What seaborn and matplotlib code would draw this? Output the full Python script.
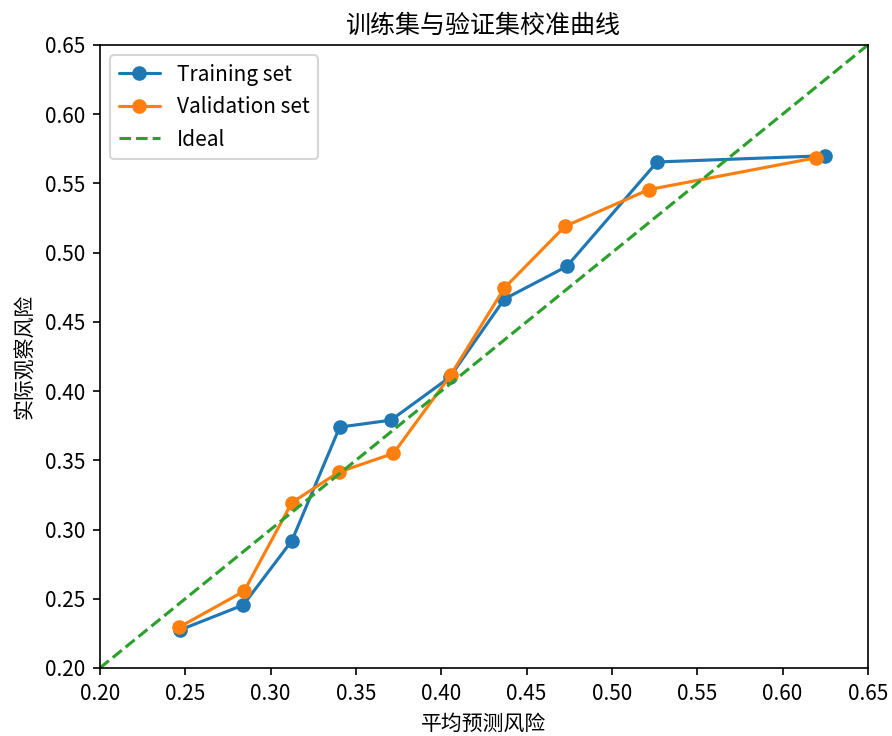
import numpy as np
import seaborn as sns
import matplotlib.pyplot as plt

# data
train_pred = [0.247, 0.284, 0.3125, 0.3405, 0.3705, 0.405, 0.437, 0.4735, 0.5265, 0.625]
train_obs = [0.2275, 0.2455, 0.292, 0.374, 0.379, 0.410, 0.4665, 0.490, 0.5655, 0.570]
val_pred = [0.2465, 0.2845, 0.3125, 0.340, 0.372, 0.4055, 0.437, 0.4725, 0.5215, 0.6195]
val_obs = [0.2295, 0.2555, 0.3195, 0.3415, 0.355, 0.4115, 0.4745, 0.519, 0.5455, 0.5685]
ideal = [0.2, 0.65]

sns.set_style("ticks")
plt.rcParams["font.family"] = ["Noto Sans CJK SC", "DejaVu Sans"]
plt.rcParams["axes.unicode_minus"] = False
for key in ["text.color", "axes.labelcolor", "xtick.color", "ytick.color", "axes.edgecolor"]:
    plt.rcParams[key] = "black"

# rendered at 150 dpi so default sizes scale like the reference
fig = plt.figure(figsize=(892 / 150, 736 / 150), dpi=150)
ax = fig.add_axes([0.112, 0.0924, 0.861, 0.8465])

pal = sns.color_palette("tab10")

sns.lineplot(x=train_pred, y=train_obs, marker="o", markersize=6, linewidth=1.5,
             color=pal[0], markeredgecolor=pal[0], markeredgewidth=1,
             sort=False, label="Training set", ax=ax)
sns.lineplot(x=val_pred, y=val_obs, marker="o", markersize=6, linewidth=1.5,
             color=pal[1], markeredgecolor=pal[1], markeredgewidth=1,
             sort=False, label="Validation set", ax=ax)
sns.lineplot(x=ideal, y=ideal, linestyle="--", linewidth=1.5, color=pal[2],
             label="Ideal", ax=ax)

ax.set_xlim(0.2, 0.65)
ax.set_ylim(0.2, 0.65)
ax.set_xticks(np.arange(0.2, 0.651, 0.05))
ax.set_yticks(np.arange(0.2, 0.651, 0.05))
ax.tick_params(labelsize=10)
for s in ax.spines.values():
    s.set_linewidth(0.8)

ax.set_title("训练集与验证集校准曲线", fontsize=12)
ax.set_xlabel("平均预测风险", fontsize=10)
ax.set_ylabel("实际观察风险", fontsize=10)
ax.legend(loc="upper left", fontsize=10, frameon=True)

fig.savefig("out.png", dpi=150)
